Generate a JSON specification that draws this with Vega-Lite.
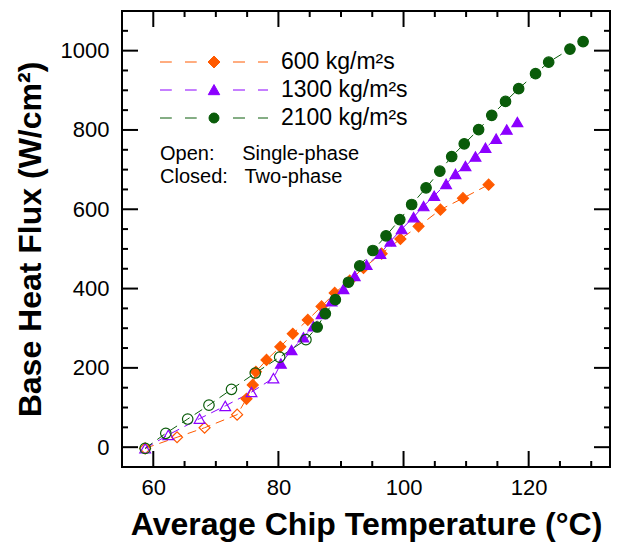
{
  "$schema": "https://vega.github.io/schema/vega-lite/v6.json",
  "width": 488,
  "height": 456,
  "autosize": {"type": "none"},
  "padding": {"left": 122, "top": 11, "right": 21, "bottom": 83},
  "background": "white",
  "config": {
    "view": {"stroke": "black", "strokeWidth": 2},
    "axis": {
      "domain": false, "ticks": false, "grid": false,
      "labelColor": "black", "labelFont": "Liberation Sans", "labelFontSize": 22,
      "titleFont": "Liberation Sans", "titleFontSize": 32, "titleFontWeight": "bold", "titleColor": "black",
      "labelOverlap": false, "labelFlush": false, "labelBound": false, "format": "d"
    }
  },
  "datasets": {
    "xmajor": [{"v": 60}, {"v": 80}, {"v": 100}, {"v": 120}],
    "xminor": [{"v": 65}, {"v": 70}, {"v": 75}, {"v": 85}, {"v": 90}, {"v": 95}, {"v": 105}, {"v": 110}, {"v": 115}, {"v": 125}, {"v": 130}],
    "ymajor": [{"v": 0}, {"v": 200}, {"v": 400}, {"v": 600}, {"v": 800}, {"v": 1000}],
    "yminor": [{"v": 50}, {"v": 100}, {"v": 150}, {"v": 250}, {"v": 300}, {"v": 350}, {"v": 450}, {"v": 500}, {"v": 550}, {"v": 650}, {"v": 700}, {"v": 750}, {"v": 850}, {"v": 900}, {"v": 950}, {"v": 1050}]
  },
  "data": {"values": [
    {"s": "600 kg/m²s", "T": 58.7, "q": -3, "phase": "Single-phase"},
    {"s": "600 kg/m²s", "T": 63.8, "q": 25, "phase": "Single-phase"},
    {"s": "600 kg/m²s", "T": 68.2, "q": 49, "phase": "Single-phase"},
    {"s": "600 kg/m²s", "T": 73.4, "q": 82, "phase": "Single-phase"},
    {"s": "600 kg/m²s", "T": 74.9, "q": 122, "phase": "Two-phase"},
    {"s": "600 kg/m²s", "T": 75.9, "q": 157, "phase": "Two-phase"},
    {"s": "600 kg/m²s", "T": 76.4, "q": 190, "phase": "Two-phase"},
    {"s": "600 kg/m²s", "T": 78.1, "q": 220, "phase": "Two-phase"},
    {"s": "600 kg/m²s", "T": 80.3, "q": 253, "phase": "Two-phase"},
    {"s": "600 kg/m²s", "T": 82.3, "q": 286, "phase": "Two-phase"},
    {"s": "600 kg/m²s", "T": 84.7, "q": 321, "phase": "Two-phase"},
    {"s": "600 kg/m²s", "T": 86.9, "q": 355, "phase": "Two-phase"},
    {"s": "600 kg/m²s", "T": 89.0, "q": 389, "phase": "Two-phase"},
    {"s": "600 kg/m²s", "T": 91.4, "q": 420, "phase": "Two-phase"},
    {"s": "600 kg/m²s", "T": 93.6, "q": 452, "phase": "Two-phase"},
    {"s": "600 kg/m²s", "T": 96.5, "q": 488, "phase": "Two-phase"},
    {"s": "600 kg/m²s", "T": 99.5, "q": 525, "phase": "Two-phase"},
    {"s": "600 kg/m²s", "T": 102.4, "q": 557, "phase": "Two-phase"},
    {"s": "600 kg/m²s", "T": 105.9, "q": 599, "phase": "Two-phase"},
    {"s": "600 kg/m²s", "T": 109.5, "q": 628, "phase": "Two-phase"},
    {"s": "600 kg/m²s", "T": 113.6, "q": 662, "phase": "Two-phase"},
    {"s": "1300 kg/m²s", "T": 58.7, "q": -3, "phase": "Single-phase"},
    {"s": "1300 kg/m²s", "T": 62.4, "q": 31, "phase": "Single-phase"},
    {"s": "1300 kg/m²s", "T": 67.4, "q": 72, "phase": "Single-phase"},
    {"s": "1300 kg/m²s", "T": 71.5, "q": 104, "phase": "Single-phase"},
    {"s": "1300 kg/m²s", "T": 75.7, "q": 139, "phase": "Single-phase"},
    {"s": "1300 kg/m²s", "T": 79.2, "q": 174, "phase": "Single-phase"},
    {"s": "1300 kg/m²s", "T": 80.4, "q": 211, "phase": "Two-phase"},
    {"s": "1300 kg/m²s", "T": 82.1, "q": 245, "phase": "Two-phase"},
    {"s": "1300 kg/m²s", "T": 84.0, "q": 277, "phase": "Two-phase"},
    {"s": "1300 kg/m²s", "T": 85.6, "q": 305, "phase": "Two-phase"},
    {"s": "1300 kg/m²s", "T": 86.9, "q": 336, "phase": "Two-phase"},
    {"s": "1300 kg/m²s", "T": 88.5, "q": 368, "phase": "Two-phase"},
    {"s": "1300 kg/m²s", "T": 90.4, "q": 399, "phase": "Two-phase"},
    {"s": "1300 kg/m²s", "T": 92.2, "q": 432, "phase": "Two-phase"},
    {"s": "1300 kg/m²s", "T": 94.1, "q": 460, "phase": "Two-phase"},
    {"s": "1300 kg/m²s", "T": 96.3, "q": 488, "phase": "Two-phase"},
    {"s": "1300 kg/m²s", "T": 97.9, "q": 519, "phase": "Two-phase"},
    {"s": "1300 kg/m²s", "T": 99.7, "q": 550, "phase": "Two-phase"},
    {"s": "1300 kg/m²s", "T": 101.6, "q": 580, "phase": "Two-phase"},
    {"s": "1300 kg/m²s", "T": 103.2, "q": 608, "phase": "Two-phase"},
    {"s": "1300 kg/m²s", "T": 104.9, "q": 634, "phase": "Two-phase"},
    {"s": "1300 kg/m²s", "T": 106.8, "q": 664, "phase": "Two-phase"},
    {"s": "1300 kg/m²s", "T": 108.3, "q": 689, "phase": "Two-phase"},
    {"s": "1300 kg/m²s", "T": 109.9, "q": 709, "phase": "Two-phase"},
    {"s": "1300 kg/m²s", "T": 111.5, "q": 733, "phase": "Two-phase"},
    {"s": "1300 kg/m²s", "T": 113.1, "q": 755, "phase": "Two-phase"},
    {"s": "1300 kg/m²s", "T": 114.8, "q": 778, "phase": "Two-phase"},
    {"s": "1300 kg/m²s", "T": 116.5, "q": 801, "phase": "Two-phase"},
    {"s": "1300 kg/m²s", "T": 118.2, "q": 820, "phase": "Two-phase"},
    {"s": "2100 kg/m²s", "T": 58.7, "q": -3, "phase": "Single-phase"},
    {"s": "2100 kg/m²s", "T": 62.0, "q": 35, "phase": "Single-phase"},
    {"s": "2100 kg/m²s", "T": 65.5, "q": 71, "phase": "Single-phase"},
    {"s": "2100 kg/m²s", "T": 68.9, "q": 106, "phase": "Single-phase"},
    {"s": "2100 kg/m²s", "T": 72.5, "q": 146, "phase": "Single-phase"},
    {"s": "2100 kg/m²s", "T": 76.3, "q": 187, "phase": "Single-phase"},
    {"s": "2100 kg/m²s", "T": 80.2, "q": 227, "phase": "Single-phase"},
    {"s": "2100 kg/m²s", "T": 84.4, "q": 271, "phase": "Single-phase"},
    {"s": "2100 kg/m²s", "T": 86.2, "q": 303, "phase": "Two-phase"},
    {"s": "2100 kg/m²s", "T": 87.5, "q": 337, "phase": "Two-phase"},
    {"s": "2100 kg/m²s", "T": 89.1, "q": 372, "phase": "Two-phase"},
    {"s": "2100 kg/m²s", "T": 91.2, "q": 416, "phase": "Two-phase"},
    {"s": "2100 kg/m²s", "T": 93.0, "q": 457, "phase": "Two-phase"},
    {"s": "2100 kg/m²s", "T": 95.1, "q": 496, "phase": "Two-phase"},
    {"s": "2100 kg/m²s", "T": 97.2, "q": 533, "phase": "Two-phase"},
    {"s": "2100 kg/m²s", "T": 99.4, "q": 574, "phase": "Two-phase"},
    {"s": "2100 kg/m²s", "T": 101.3, "q": 612, "phase": "Two-phase"},
    {"s": "2100 kg/m²s", "T": 103.6, "q": 654, "phase": "Two-phase"},
    {"s": "2100 kg/m²s", "T": 105.8, "q": 696, "phase": "Two-phase"},
    {"s": "2100 kg/m²s", "T": 107.7, "q": 733, "phase": "Two-phase"},
    {"s": "2100 kg/m²s", "T": 109.7, "q": 765, "phase": "Two-phase"},
    {"s": "2100 kg/m²s", "T": 112.0, "q": 801, "phase": "Two-phase"},
    {"s": "2100 kg/m²s", "T": 114.1, "q": 837, "phase": "Two-phase"},
    {"s": "2100 kg/m²s", "T": 116.3, "q": 872, "phase": "Two-phase"},
    {"s": "2100 kg/m²s", "T": 118.4, "q": 904, "phase": "Two-phase"},
    {"s": "2100 kg/m²s", "T": 121.1, "q": 942, "phase": "Two-phase"},
    {"s": "2100 kg/m²s", "T": 123.2, "q": 971, "phase": "Two-phase"},
    {"s": "2100 kg/m²s", "T": 126.6, "q": 1004, "phase": "Two-phase"},
    {"s": "2100 kg/m²s", "T": 128.7, "q": 1023, "phase": "Two-phase"}
  ]},
  "resolve": {
    "axis": {"x": "independent", "y": "independent"},
    "scale": {"shape": "independent", "fill": "independent", "stroke": "independent", "size": "independent"},
    "legend": {"shape": "independent", "fill": "independent", "stroke": "independent", "size": "independent"}
  },
  "layer": [
    {
      "mark": {"type": "line", "strokeWidth": 1, "strokeDash": [9, 6]},
      "encoding": {
        "x": {"field": "T", "type": "quantitative",
          "scale": {"domain": [55, 133], "nice": false, "zero": false},
          "axis": {"orient": "bottom", "title": "Average Chip Temperature (°C)",
            "values": [60, 80, 100, 120], "labelPadding": 10, "titlePadding": 11}},
        "y": {"field": "q", "type": "quantitative",
          "scale": {"domain": [-50, 1100], "nice": false, "zero": false},
          "axis": {"orient": "left", "title": "Base Heat Flux (W/cm²)",
            "values": [0, 200, 400, 600, 800, 1000], "labelPadding": 13, "titlePadding": 13}},
        "color": {"field": "s", "type": "nominal",
          "scale": {"domain": ["600 kg/m²s", "1300 kg/m²s", "2100 kg/m²s"], "range": ["#FF5A00", "#8C00FF", "#0A5C0A"]},
          "legend": null}
      }
    },
    {
      "mark": {"type": "point", "filled": true, "strokeWidth": 1.2, "opacity": 1},
      "encoding": {
        "x": {"field": "T", "type": "quantitative", "axis": null},
        "y": {"field": "q", "type": "quantitative", "axis": null},
        "stroke": {"field": "s", "type": "nominal",
          "scale": {"domain": ["600 kg/m²s", "1300 kg/m²s", "2100 kg/m²s"], "range": ["#FF5A00", "#8C00FF", "#0A5C0A"]},
          "legend": null},
        "fill": {"field": "s", "type": "nominal",
          "scale": {"domain": ["600 kg/m²s", "1300 kg/m²s", "2100 kg/m²s"], "range": ["#FF5A00", "#8C00FF", "#0A5C0A"]},
          "legend": null,
          "condition": {"test": "datum.phase === 'Single-phase'", "value": "transparent"}},
        "size": {"field": "s", "type": "nominal",
          "scale": {"domain": ["600 kg/m²s", "1300 kg/m²s", "2100 kg/m²s"], "range": [121, 110, 90]},
          "legend": null},
        "shape": {"field": "s", "type": "nominal",
          "scale": {"domain": ["600 kg/m²s", "1300 kg/m²s", "2100 kg/m²s"], "range": ["diamond", "triangle-up", "circle"]},
          "legend": null}
      }
    },
    {
      "data": {"name": "xmajor"},
      "mark": {"type": "tick", "orient": "vertical", "size": 16, "yOffset": -8, "thickness": 2, "color": "black", "opacity": 1},
      "encoding": {"x": {"field": "v", "type": "quantitative", "axis": null}, "y": {"datum": -50, "type": "quantitative", "axis": null}}
    },
    {
      "data": {"name": "xmajor"},
      "mark": {"type": "tick", "orient": "vertical", "size": 16, "yOffset": 8, "thickness": 2, "color": "black", "opacity": 1},
      "encoding": {"x": {"field": "v", "type": "quantitative", "axis": null}, "y": {"datum": 1100, "type": "quantitative", "axis": null}}
    },
    {
      "data": {"name": "xminor"},
      "mark": {"type": "tick", "orient": "vertical", "size": 6, "yOffset": -3, "thickness": 2, "color": "black", "opacity": 1},
      "encoding": {"x": {"field": "v", "type": "quantitative", "axis": null}, "y": {"datum": -50, "type": "quantitative", "axis": null}}
    },
    {
      "data": {"name": "xminor"},
      "mark": {"type": "tick", "orient": "vertical", "size": 6, "yOffset": 3, "thickness": 2, "color": "black", "opacity": 1},
      "encoding": {"x": {"field": "v", "type": "quantitative", "axis": null}, "y": {"datum": 1100, "type": "quantitative", "axis": null}}
    },
    {
      "data": {"name": "ymajor"},
      "mark": {"type": "tick", "orient": "horizontal", "size": 16, "xOffset": 8, "thickness": 2, "color": "black", "opacity": 1},
      "encoding": {"y": {"field": "v", "type": "quantitative", "axis": null}, "x": {"datum": 55, "type": "quantitative", "axis": null}}
    },
    {
      "data": {"name": "ymajor"},
      "mark": {"type": "tick", "orient": "horizontal", "size": 16, "xOffset": -8, "thickness": 2, "color": "black", "opacity": 1},
      "encoding": {"y": {"field": "v", "type": "quantitative", "axis": null}, "x": {"datum": 133, "type": "quantitative", "axis": null}}
    },
    {
      "data": {"name": "yminor"},
      "mark": {"type": "tick", "orient": "horizontal", "size": 6, "xOffset": 3, "thickness": 2, "color": "black", "opacity": 1},
      "encoding": {"y": {"field": "v", "type": "quantitative", "axis": null}, "x": {"datum": 55, "type": "quantitative", "axis": null}}
    },
    {
      "data": {"name": "yminor"},
      "mark": {"type": "tick", "orient": "horizontal", "size": 6, "xOffset": -3, "thickness": 2, "color": "black", "opacity": 1},
      "encoding": {"y": {"field": "v", "type": "quantitative", "axis": null}, "x": {"datum": 133, "type": "quantitative", "axis": null}}
    },
    {
      "data": {"values": []},
      "mark": {"type": "point", "filled": true, "opacity": 1},
      "encoding": {
        "fill": {"field": "s", "type": "nominal",
          "scale": {"domain": ["600 kg/m²s", "1300 kg/m²s", "2100 kg/m²s"], "range": ["#FF5A00", "#8C00FF", "#0A5C0A"]}},
        "stroke": {"field": "s", "type": "nominal",
          "scale": {"domain": ["600 kg/m²s", "1300 kg/m²s", "2100 kg/m²s"], "range": ["#FF5A00", "#8C00FF", "#0A5C0A"]}},
        "shape": {"field": "s", "type": "nominal",
          "scale": {"domain": ["600 kg/m²s", "1300 kg/m²s", "2100 kg/m²s"], "range": [
            "M-4,0H-3.126M-2.148,0H-1.281M1.407,0H2.296M3.259,0H4M0,-0.443L0.443,0L0,0.443L-0.443,0Z",
            "M-4,0H-3.126M-2.148,0H-1.281M1.407,0H2.296M3.259,0H4M0,-0.404L0.424,0.347L-0.424,0.347Z",
            "M-4,0H-3.126M-2.148,0H-1.281M1.407,0H2.296M3.259,0H4M-0.37,0A0.37,0.37,0,1,0,0.37,0A0.37,0.37,0,1,0,-0.37,0Z"]},
          "legend": {
            "orient": "none", "legendX": 38, "legendY": 37, "padding": 0,
            "title": ["Open:\u00a0\u00a0\u00a0\u00a0\u00a0Single-phase", "Closed:\u00a0\u00a0\u00a0Two-phase"],
            "titleOrient": "bottom", "titleAnchor": "start", "titleAlign": "left", "titleBaseline": "top",
            "titlePadding": 14, "titleLineHeight": 23, "titleLimit": 400,
            "titleFont": "Liberation Sans", "titleFontSize": 20, "titleFontWeight": "normal", "titleColor": "black",
            "labelFont": "Liberation Sans", "labelFontSize": 23, "labelColor": "black", "labelOffset": 53, "labelLimit": 300,
            "symbolSize": 729, "symbolStrokeWidth": 1, "symbolOffset": 40, "rowPadding": 2, "symbolOpacity": 1
          }}
      }
    }
  ]
}
